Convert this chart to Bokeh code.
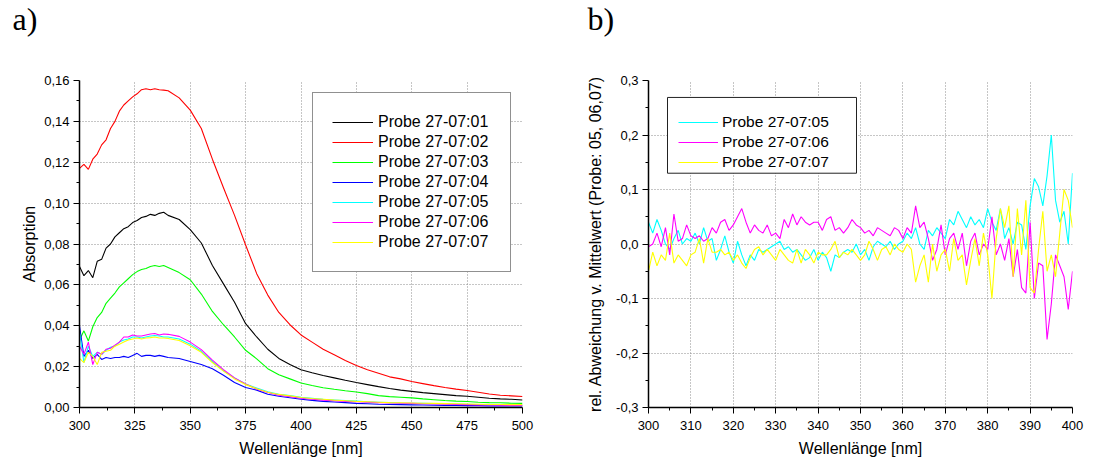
from bokeh.plotting import figure
from bokeh.layouts import row
from bokeh.models import (Range1d, FixedTicker, CustomJSTickFormatter, Legend,
                          LegendItem, Title, BoxAnnotation)
from bokeh.embed import file_html
from bokeh.resources import INLINE

# ---------------- data: panel a) absorption spectra ----------------
wavelength_a = [300, 302, 304, 306, 308, 310, 312, 314, 316, 318, 320, 322, 324, 326, 328,
                330, 332, 334, 336, 338, 340,
                345, 350, 355, 360, 365, 370, 375, 380, 385, 390, 395, 400, 405, 410, 415,
                420, 425, 430, 435, 440, 445, 450, 455, 460, 465, 470, 475, 480, 485, 490,
                495, 500]

probe_01 = [0.069, 0.0645, 0.067, 0.0635, 0.0715, 0.0725, 0.078, 0.080, 0.0835, 0.0855,
            0.0875, 0.0885, 0.0905, 0.0915, 0.093, 0.0935, 0.0945, 0.094, 0.095, 0.0955, 0.094,
            0.092, 0.087, 0.0805, 0.0695, 0.0605, 0.0515, 0.041, 0.0345, 0.0285, 0.024, 0.021,
            0.0185, 0.017, 0.0157, 0.0145, 0.0133, 0.0122, 0.0112, 0.0102, 0.0093, 0.0085,
            0.0079, 0.0073, 0.0068, 0.0063, 0.0058, 0.0055, 0.005, 0.0045, 0.0042, 0.004, 0.0037]

probe_02 = [0.117, 0.119, 0.1165, 0.1215, 0.124, 0.1285, 0.131, 0.1365, 0.140, 0.145,
            0.148, 0.150, 0.152, 0.1535, 0.1555, 0.156, 0.1555, 0.156, 0.1555, 0.1553, 0.155,
            0.1515, 0.1455, 0.1365, 0.1215, 0.1075, 0.094, 0.0795, 0.0655, 0.055, 0.0465, 0.0405,
            0.0355, 0.032, 0.0285, 0.0258, 0.023, 0.0205, 0.0185, 0.0168, 0.015, 0.014,
            0.0127, 0.0117, 0.0107, 0.0098, 0.009, 0.0083, 0.0075, 0.0066, 0.006, 0.0057, 0.0054]

probe_03 = [0.033, 0.0375, 0.0325, 0.0395, 0.044, 0.0465, 0.051, 0.0535, 0.056, 0.059,
            0.061, 0.063, 0.065, 0.0665, 0.0675, 0.068, 0.069, 0.0695, 0.069, 0.0695, 0.0685,
            0.066, 0.0625, 0.0555, 0.047, 0.0405, 0.0345, 0.028, 0.0238, 0.019, 0.016, 0.014,
            0.012, 0.0108, 0.0097, 0.0089, 0.0082, 0.0076, 0.0068, 0.0058, 0.0053, 0.005,
            0.0047, 0.0042, 0.0038, 0.0034, 0.0031, 0.0029, 0.0026, 0.0024, 0.0023, 0.0021, 0.002]

probe_04 = [0.040, 0.025, 0.028, 0.024, 0.026, 0.0235, 0.0245, 0.024, 0.0245, 0.0245,
            0.025, 0.0245, 0.0255, 0.0265, 0.025, 0.0255, 0.0255, 0.025, 0.0255, 0.025, 0.0245,
            0.024, 0.0225, 0.021, 0.019, 0.0158, 0.0122, 0.0098, 0.0085, 0.0065, 0.0055, 0.0048,
            0.004, 0.0035, 0.003, 0.0027, 0.0024, 0.002, 0.0018, 0.0016, 0.0015, 0.0014,
            0.0013, 0.0012, 0.0011, 0.001, 0.001, 0.0009, 0.0009, 0.0008, 0.0008, 0.0008, 0.0008]

probe_05 = [0.037, 0.022, 0.030, 0.025, 0.027, 0.026, 0.028, 0.0295, 0.030, 0.032,
            0.033, 0.0335, 0.0345, 0.0345, 0.034, 0.0345, 0.035, 0.0352, 0.035, 0.0345, 0.0345,
            0.0335, 0.031, 0.0275, 0.0225, 0.018, 0.0145, 0.0115, 0.0095, 0.0077, 0.0065, 0.0058,
            0.005, 0.0045, 0.004, 0.0037, 0.0034, 0.0031, 0.0028, 0.0026, 0.0024, 0.0022,
            0.0021, 0.002, 0.0019, 0.0018, 0.0017, 0.0016, 0.0015, 0.0014, 0.0014, 0.0013, 0.0013]

probe_06 = [0.030, 0.026, 0.032, 0.021, 0.027, 0.026, 0.0285, 0.029, 0.0305, 0.032,
            0.0345, 0.0345, 0.0355, 0.035, 0.035, 0.0355, 0.036, 0.0362, 0.0355, 0.036, 0.0358,
            0.0348, 0.032, 0.0283, 0.0232, 0.0185, 0.0145, 0.0115, 0.009, 0.0073, 0.006, 0.0053,
            0.0045, 0.004, 0.0036, 0.0033, 0.003, 0.0028, 0.0026, 0.0024, 0.0022, 0.0021,
            0.002, 0.0018, 0.0017, 0.0016, 0.0015, 0.0014, 0.0013, 0.0012, 0.0011, 0.001, 0.001]

probe_07 = [0.024, 0.022, 0.027, 0.025, 0.021, 0.027, 0.0275, 0.028, 0.030, 0.031,
            0.032, 0.033, 0.0335, 0.034, 0.0335, 0.034, 0.0342, 0.0345, 0.034, 0.034, 0.0338,
            0.0328, 0.0302, 0.027, 0.022, 0.0178, 0.014, 0.0112, 0.0092, 0.0075, 0.0064, 0.0057,
            0.0049, 0.0044, 0.004, 0.0036, 0.0033, 0.003, 0.0028, 0.0026, 0.0024, 0.0023,
            0.0022, 0.0021, 0.002, 0.0019, 0.0018, 0.0017, 0.0016, 0.0015, 0.0015, 0.0014, 0.0014]

labels_a = ["Probe 27-07:01", "Probe 27-07:02", "Probe 27-07:03", "Probe 27-07:04",
            "Probe 27-07:05", "Probe 27-07:06", "Probe 27-07:07"]
colors_a = ["#000000", "#ff0000", "#00ff00", "#0000ff", "#00ffff", "#ff00ff", "#ffff00"]

# ---------------- data: panel b) relative deviation ----------------
wavelength_b = list(range(300, 401))

dev_05 = [0.04, 0.02, 0.045, 0.025, 0.0, -0.01, 0.01, 0.025, 0.0, 0.01,
          0.005, 0.02, 0.0, 0.03, 0.005, 0.01, -0.03, -0.01, 0.015, -0.015,
          -0.035, 0.005, -0.02, -0.04, -0.02, -0.03, -0.01, -0.015, -0.01, -0.005,
          0.0, 0.005, -0.01, -0.005, -0.015, -0.01, -0.02, -0.03, -0.025, -0.01,
          -0.03, -0.015, -0.025, -0.05, -0.02, -0.025, -0.015, -0.01, -0.015, 0.0,
          -0.02, -0.01, -0.03, -0.005, 0.005, 0.0, -0.005, 0.005, -0.01, 0.0,
          0.005, 0.02, 0.01, 0.03, 0.0, -0.01, 0.025, 0.015, 0.03, 0.02,
          0.01, 0.045, 0.035, 0.06, 0.045, 0.03, 0.05, 0.035, 0.045, 0.03,
          0.065, 0.04, 0.025, 0.065, 0.01, 0.03, 0.0, 0.04, 0.035, -0.01,
          0.07, 0.12, 0.105, 0.07, 0.125, 0.2, 0.08, 0.04, 0.06, 0.0,
          0.13]

dev_06 = [-0.005, 0.0, 0.02, -0.005, 0.03, -0.02, 0.055, 0.005, 0.01, 0.035,
          0.015, 0.01, 0.015, 0.005, 0.01, 0.03, 0.02, 0.04, 0.045, 0.025,
          0.035, 0.05, 0.065, 0.04, 0.02, 0.035, 0.025, 0.02, 0.035, 0.015,
          0.02, 0.01, 0.045, 0.03, 0.055, 0.035, 0.05, 0.04, 0.035, 0.04,
          0.04, 0.025, 0.045, 0.05, 0.025, 0.03, 0.02, 0.03, 0.045, 0.035,
          0.03, 0.02, 0.025, 0.015, 0.03, 0.025, 0.02, 0.015, 0.03, 0.025,
          0.01, 0.03, 0.02, 0.07, 0.03, 0.04, 0.01, -0.03, -0.01, 0.035,
          -0.02, 0.01, 0.02, -0.01, 0.02, -0.04, 0.005, 0.02, -0.02, 0.0,
          -0.01, 0.05, -0.02, 0.0, -0.03, 0.01, -0.06, -0.01, -0.08, -0.09,
          0.04, -0.1, -0.035, -0.04, -0.175, -0.11, -0.02, -0.04, -0.06, -0.12,
          -0.05]

dev_07 = [-0.05, -0.015, -0.04, -0.02, -0.03, 0.02, -0.035, -0.02, -0.03, -0.04,
          -0.02, -0.015, 0.01, -0.035, 0.01, -0.015, -0.015, -0.01, -0.02, -0.015,
          -0.03, -0.02, -0.035, -0.045, -0.025, -0.01, -0.005, -0.02, -0.01, -0.02,
          -0.03, -0.01, -0.02, -0.03, -0.035, -0.01, -0.035, -0.01, -0.02, -0.035,
          -0.015, -0.02, -0.02, -0.01, 0.005, -0.025, -0.015, -0.02, -0.01, -0.02,
          -0.03, -0.02, 0.005, -0.01, -0.03, -0.01, -0.005, -0.02, 0.0, -0.01,
          -0.015, 0.0, -0.01, -0.07, -0.04, -0.02, -0.07, 0.0, -0.05, -0.02,
          -0.01, -0.05, 0.01, -0.03, -0.02, -0.075, -0.03, 0.01, -0.04, 0.02,
          -0.02, -0.1, 0.01, 0.065, 0.03, 0.07, -0.06, 0.065, -0.02, 0.08,
          -0.08, -0.09, -0.01, 0.06, -0.05, -0.02, -0.06, 0.02, 0.1, 0.08,
          0.03]

labels_b = ["Probe 27-07:05", "Probe 27-07:06", "Probe 27-07:07"]
colors_b = ["#00ffff", "#ff00ff", "#ffff00"]

ticks_a_x = [300, 325, 350, 375, 400, 425, 450, 475, 500]
ticks_a_y = [0.0, 0.02, 0.04, 0.06, 0.08, 0.10, 0.12, 0.14, 0.16]
ticks_b_x = [300, 310, 320, 330, 340, 350, 360, 370, 380, 390, 400]
ticks_b_y = [-0.3, -0.2, -0.1, 0.0, 0.1, 0.2, 0.3]

FONT = "Liberation Sans"
GRID = "#8c8c8c"


def style(p, xlabel, ylabel, ylabel_standoff):
    p.outline_line_color = None
    p.background_fill_color = "white"
    p.border_fill_color = "white"
    for ax in (p.xaxis[0], p.yaxis[0]):
        ax.axis_line_color = "black"
        ax.axis_line_width = 1.5
        ax.major_tick_line_color = "black"
        ax.minor_tick_line_color = "black"
        ax.major_tick_out = 6
        ax.major_tick_in = 0
        ax.minor_tick_out = 3
        ax.minor_tick_in = 0
        ax.major_label_text_font = FONT
        ax.major_label_text_font_size = "13px"
        ax.major_label_text_color = "black"
        ax.axis_label_text_font = FONT
        ax.axis_label_text_font_size = "16px"
        ax.axis_label_text_font_style = "normal"
        ax.axis_label_text_color = "black"
    p.xaxis.major_label_standoff = 7
    p.xaxis.axis_label_standoff = 7
    p.yaxis.major_label_standoff = 4
    p.yaxis.axis_label_standoff = ylabel_standoff
    p.xaxis.axis_label = xlabel
    p.yaxis.axis_label = ylabel
    for g in (p.xgrid[0], p.ygrid[0]):
        g.grid_line_color = GRID
        g.grid_line_dash = "1 2"
        g.grid_line_width = 1


def panel_title(p, text, offset):
    # second (blank) line gives the title box enough height to sit near the top edge
    p.add_layout(Title(text=text + "\n ", align="left", offset=offset, standoff=0,
                       vertical_align="top", text_line_height=1.17,
                       text_font="Liberation Serif", text_font_size="32px",
                       text_font_style="normal", text_color="black"), "above")


# ---------------- panel a ----------------
pa = figure(width=560, height=459, x_range=Range1d(300, 500), y_range=Range1d(0, 0.16),
            output_backend="svg", toolbar_location=None,
            min_border_left=79, min_border_right=38, min_border_top=79, min_border_bottom=52)
style(pa, "Wellenlänge [nm]", "Absorption", 3)
pa.xaxis.ticker = FixedTicker(ticks=ticks_a_x,
                              minor_ticks=[t + 12.5 for t in ticks_a_x[:-1]])
pa.yaxis.ticker = FixedTicker(ticks=ticks_a_y,
                              minor_ticks=[t + 0.01 for t in ticks_a_y[:-1]])
pa.xgrid.ticker = FixedTicker(ticks=ticks_a_x[1:-1])
pa.ygrid.ticker = FixedTicker(ticks=ticks_a_y[1:-1])
pa.yaxis.formatter = CustomJSTickFormatter(code="return tick.toFixed(2).replace('.', ',');")
pa.xaxis.formatter = CustomJSTickFormatter(code="return tick.toFixed(0);")

series_a = [probe_01, probe_02, probe_03, probe_04, probe_05, probe_06, probe_07]
items_a = []
for ys, c, lab in zip(series_a, colors_a, labels_a):
    r = pa.line(wavelength_a, ys, line_color=c, line_width=1.1)
    items_a.append(LegendItem(label=lab, renderers=[r]))

leg_a = Legend(items=items_a, location=(233, 135), padding=19, margin=0, spacing=0,
               glyph_width=41, glyph_height=20, label_height=20, label_width=113,
               label_standoff=5, label_text_font=FONT, label_text_font_size="16px",
               label_text_color="black", border_line_color="#222222", border_line_width=1,
               background_fill_color="white", background_fill_alpha=1.0)
pa.add_layout(leg_a)
panel_title(pa, "a)", -67)

# ---------------- panel b ----------------
pb = figure(width=549, height=459, x_range=Range1d(300, 400), y_range=Range1d(-0.3, 0.3),
            output_backend="svg", toolbar_location=None,
            min_border_left=88, min_border_right=37, min_border_top=79, min_border_bottom=52)
style(pb, "Wellenlänge [nm]", "rel. Abweichung v. Mittelwert (Probe: 05, 06,07)", 9)
pb.xaxis.ticker = FixedTicker(ticks=ticks_b_x,
                              minor_ticks=[t + 5 for t in ticks_b_x[:-1]])
pb.yaxis.ticker = FixedTicker(ticks=ticks_b_y,
                              minor_ticks=[t + 0.05 for t in ticks_b_y[:-1]])
pb.xgrid.ticker = FixedTicker(ticks=ticks_b_x[1:-1])
pb.ygrid.ticker = FixedTicker(ticks=ticks_b_y[1:-1])
pb.yaxis.formatter = CustomJSTickFormatter(
    code="var v = Math.abs(tick) < 1e-9 ? 0 : tick; return v.toFixed(1).replace('.', ',');")
pb.xaxis.formatter = CustomJSTickFormatter(code="return tick.toFixed(0);")

series_b = [dev_05, dev_06, dev_07]
items_b = []
for ys, c, lab in zip(series_b, colors_b, labels_b):
    r = pb.line(wavelength_b, ys, line_color=c, line_width=1.1)
    items_b.append(LegendItem(label=lab, renderers=[r]))

# legend frame (pixel offsets inside the plot frame converted to data units)
fw, fh = 424.0, 328.0
px_x = lambda px: 300 + px * 100.0 / fw
px_y = lambda px: 0.3 - px * 0.6 / fh
pb.add_layout(BoxAnnotation(left=px_x(19), right=px_x(208), top=px_y(17), bottom=px_y(93),
                            fill_color="white", fill_alpha=1.0, line_color="#222222",
                            line_width=1, line_alpha=1.0))
leg_b = Legend(items=items_b, location=(30, 235), padding=8, margin=0, spacing=0,
               glyph_width=40, glyph_height=20, label_height=20,
               label_standoff=4, label_text_font=FONT, label_text_font_size="15.5px",
               label_text_color="black", border_line_color=None,
               background_fill_alpha=0.0)
pb.add_layout(leg_b)
panel_title(pb, "b)", -61)

layout = row(pa, pb)
open("out.html", "w").write(file_html(layout, INLINE))
